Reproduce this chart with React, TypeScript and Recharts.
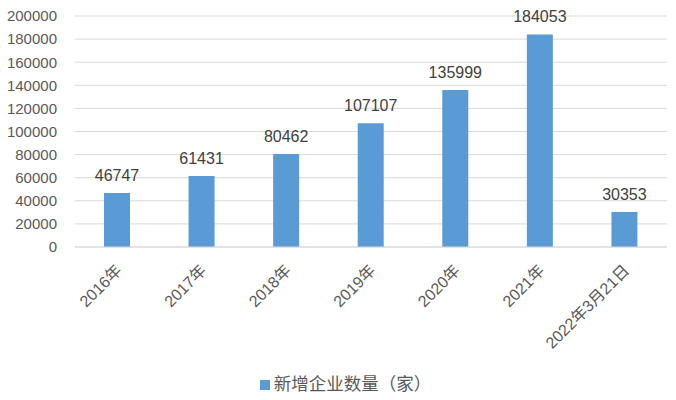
import { BarChart, Bar, XAxis, YAxis, CartesianGrid, Legend, LabelList } from 'recharts'

const categories = ['2016年', '2017年', '2018年', '2019年', '2020年', '2021年', '2022年3月21日']
const newCompanies = [46747, 61431, 80462, 107107, 135999, 184053, 30353]
const yTicks = [0, 20000, 40000, 60000, 80000, 100000, 120000, 140000, 160000, 180000, 200000]

const data = categories.map((name, i) => ({ name, value: newCompanies[i] }))

const FONT = '"Liberation Sans", "Noto Sans CJK SC", sans-serif'

function RotatedTick(props: any) {
  const { x, y, payload } = props
  return (
    <g transform={`translate(${x + 2},${y + 13})`}>
      <text
        textAnchor="end"
        transform="rotate(-45)"
        fill="#595959"
        fontSize={16}
        fontFamily={FONT}
        dy={5}
      >
        {payload.value}
      </text>
    </g>
  )
}

export default function App() {
  return (
    <div style={{ position: 'absolute', left: 0, top: 0, background: '#fff' }}>
      <BarChart
        width={676}
        height={400}
        data={data}
        margin={{ top: 16, right: 9, left: 0, bottom: 0 }}
      >
        <CartesianGrid vertical={false} stroke="#d9d9d9" />
        <XAxis
          dataKey="name"
          axisLine={{ stroke: '#d9d9d9' }}
          tickLine={false}
          interval={0}
          height={123}
          tick={<RotatedTick />}
        />
        <YAxis
          width={75}
          domain={[0, 200000]}
          ticks={yTicks}
          axisLine={false}
          tickLine={false}
          tickMargin={12}
          tick={{ fill: '#595959', fontSize: 15, fontFamily: FONT }}
        />
        <Legend
          verticalAlign="bottom"
          height={30}
          iconType="square"
          iconSize={10}
          wrapperStyle={{ fontFamily: FONT, fontSize: 17.5, paddingLeft: 17 }}
          formatter={(v: string) => <span style={{ color: '#595959' }}>{v}</span>}
        />
        <Bar
          dataKey="value"
          name="新增企业数量（家）"
          fill="#5b9bd5"
          barSize={26}
          isAnimationActive={false}
        >
          <LabelList
            dataKey="value"
            position="top"
            offset={12}
            fill="#404040"
            fontSize={16}
            fontFamily={FONT}
          />
        </Bar>
      </BarChart>
    </div>
  )
}
